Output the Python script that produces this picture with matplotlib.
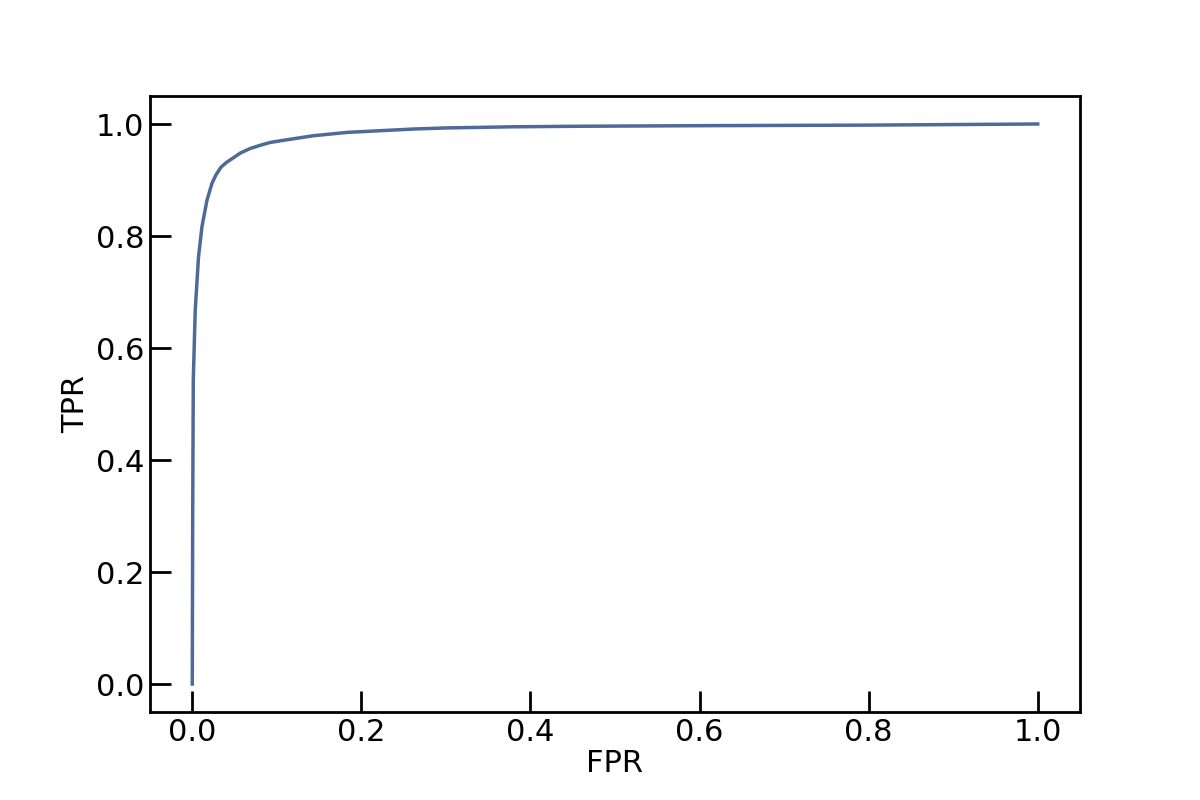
import matplotlib
matplotlib.use("Agg")
import matplotlib.pyplot as plt

# ROC curve points
fpr = [0.0, 0.0005, 0.0012, 0.0035, 0.0074, 0.0115, 0.0174, 0.0233, 0.028,
       0.034, 0.041, 0.048, 0.0567, 0.068, 0.0804, 0.092, 0.104, 0.143,
       0.183, 0.222, 0.261, 0.301, 0.340, 0.379, 0.459, 0.6, 0.8, 1.0]
tpr = [0.0, 0.30, 0.543, 0.668, 0.763, 0.817, 0.864, 0.894, 0.909,
       0.923, 0.932, 0.939, 0.948, 0.956, 0.962, 0.967, 0.970, 0.979,
       0.985, 0.988, 0.991, 0.993, 0.994, 0.995, 0.996, 0.997, 0.998, 1.0]

fig, ax = plt.subplots(figsize=(12, 8), dpi=100)
ax.plot(fpr, tpr, color='#4e6a97', linewidth=2.5)

ax.set_xlabel("FPR", fontsize=22, labelpad=2)
ax.set_ylabel("TPR", fontsize=22)
ax.set_xticks([0.0, 0.2, 0.4, 0.6, 0.8, 1.0])
ax.set_yticks([0.0, 0.2, 0.4, 0.6, 0.8, 1.0])
ax.tick_params(direction='in', length=15, width=2, labelsize=22, pad=4)
for s in ax.spines.values():
    s.set_linewidth(2)

fig.savefig("out.png")
